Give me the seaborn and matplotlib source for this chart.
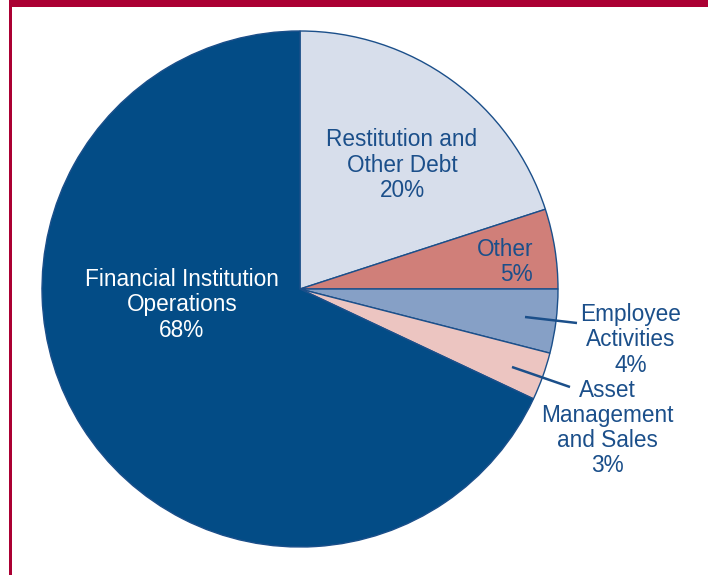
import matplotlib
matplotlib.use("Agg")
import matplotlib.pyplot as plt
import seaborn as sns

sns.set_theme(style="white")
plt.rcParams["font.family"] = ["Liberation Sans", "DejaVu Sans"]

# Share of cases by category (clockwise from 12 o'clock)
categories = ["Restitution and\nOther Debt", "Other", "Employee\nActivities",
              "Asset\nManagement\nand Sales", "Financial Institution\nOperations"]
shares = [20, 5, 4, 3, 68]
colors = ["#d7deeb", "#d07f79", "#86a0c6", "#ecc5c1", "#034c86"]

navy = "#1b4f8a"
crimson = "#ab0033"

fig = plt.figure(figsize=(7.08, 5.75), dpi=100)
ax = fig.add_axes([0, 0, 1, 1])

H = 575
cx, cy, r = 300, H - 289, 258

wedges, _ = ax.pie(shares, colors=colors, startangle=90, counterclock=False,
                   center=(cx, cy), radius=r, frame=True,
                   wedgeprops=dict(edgecolor=navy, linewidth=1.0))
ax.set_xlim(0, 708)
ax.set_ylim(0, 575)
ax.set_aspect("equal")
ax.axis("off")

fs = 16.3
ls = 1.12
labels = [f"{c}\n{s}%" for c, s in zip(categories, shares)]

ax.text(402, H - 165, labels[0], ha="center", va="center", color=navy,
        fontsize=fs, linespacing=ls)
ax.text(533, H - 262, labels[1], ha="right", va="center", color=navy,
        fontsize=fs, linespacing=ls, multialignment="right")
ax.text(631, H - 340, labels[2], ha="center", va="center", color=navy,
        fontsize=fs, linespacing=ls)
ax.text(607, H - 428, labels[3], ha="center", va="center", color=navy,
        fontsize=fs, linespacing=ls)
ax.text(182, H - 305, labels[4], ha="center", va="center", color="white",
        fontsize=fs, linespacing=ls)

# leader lines for the two narrow slices
ax.plot([525, 577], [H - 317, H - 323], color=navy, lw=1.8, solid_capstyle="butt")
ax.plot([512, 570], [H - 367, H - 387], color=navy, lw=1.8, solid_capstyle="butt")

# crimson frame: top band and left rule
ax.add_patch(plt.Rectangle((9, H - 6.5), 708 - 9, 6.5, color=crimson, lw=0, clip_on=False))
ax.add_patch(plt.Rectangle((9, 0), 2.5, H, color=crimson, lw=0, clip_on=False))

fig.savefig("out.png", dpi=100)
